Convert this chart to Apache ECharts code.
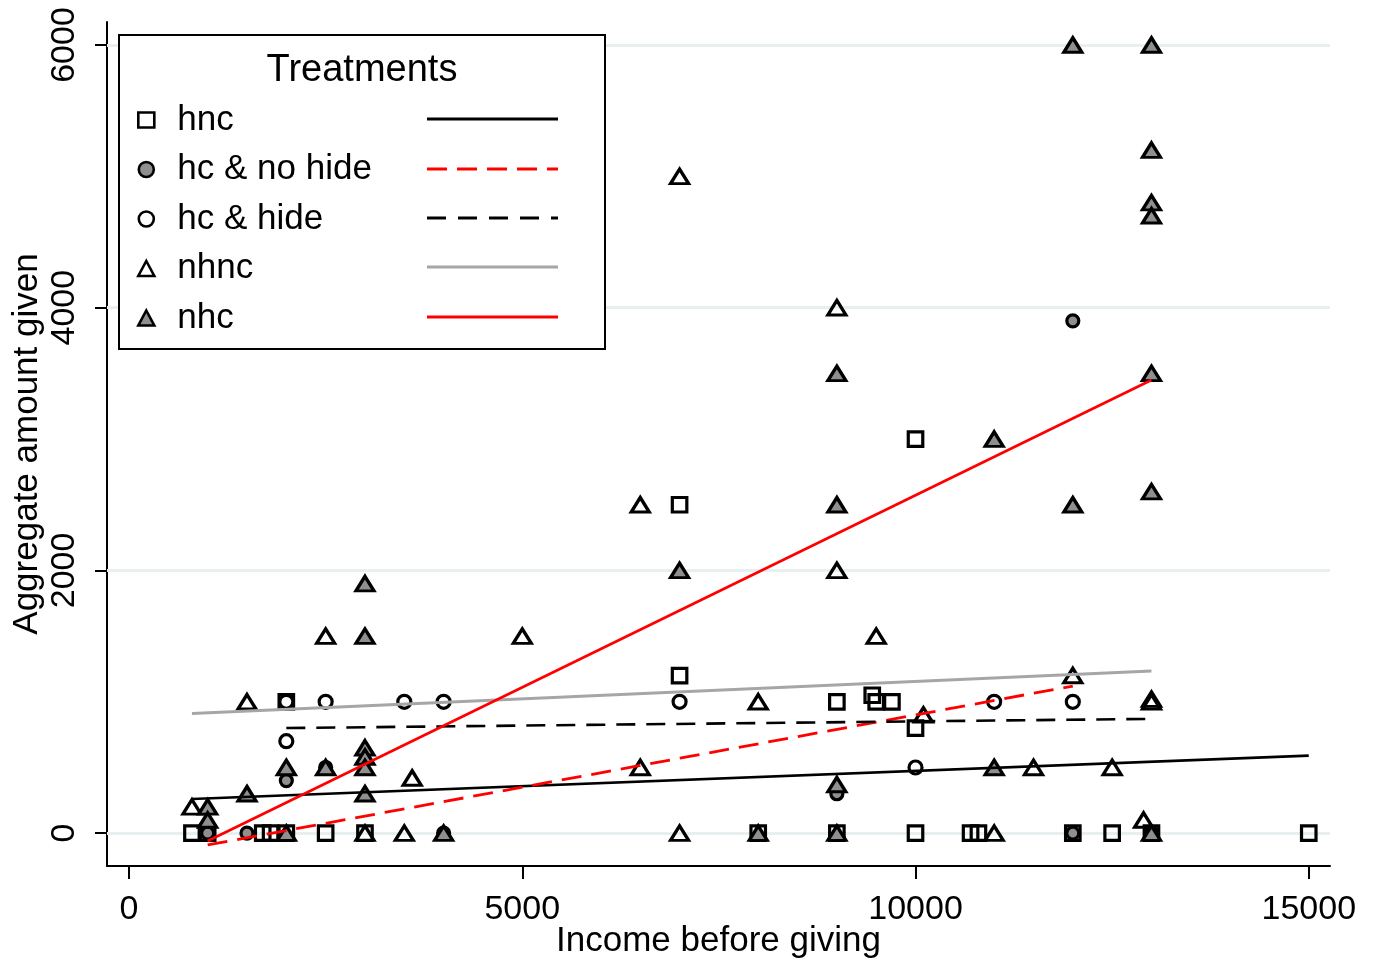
<!DOCTYPE html>
<html><head><meta charset="utf-8">
<script src="https://cdn.jsdelivr.net/npm/echarts@6/dist/echarts.min.js"></script>
<style>html,body{margin:0;padding:0;background:#fff}#c{width:1375px;height:962px}</style>
</head><body><div id="c"></div>
<script>
// ---- data ----
const xTicks = [0, 5000, 10000, 15000];
const yTicks = [0, 2000, 4000, 6000];
const seriesNames = ['hnc', 'hc & no hide', 'hc & hide', 'nhnc', 'nhc'];

const hnc = [[800,0],[1000,0],[1700,0],[1800,0],[2000,0],[2500,0],[3000,0],[2000,1000],
  [7000,2500],[10000,3000],[7000,1200],[9000,1000],[9450,1050],[9500,1000],[9700,1000],
  [10000,800],[8000,0],[9000,0],[10000,0],[10700,0],[10800,0],[12000,0],[12500,0],[13000,0],[15000,0]];
const hcNoHide = [[1000,0],[1500,0],[2000,400],[2500,500],[4000,0],[9000,300],[12000,3900],[12000,0]];
const hcHide = [[2000,1000],[2500,1000],[3500,1000],[4000,1000],[2000,700],[7000,1000],
  [10000,500],[11000,1000],[12000,1000],[13000,0]];
const nhnc = [[800,200],[1500,1000],[2500,1500],[3000,0],[3500,0],[3600,420],[5000,1500],
  [6500,2500],[6500,500],[7000,5000],[7000,0],[8000,1000],[9000,4000],[9000,2000],[9500,1500],
  [10100,900],[11000,0],[11500,500],[12000,1200],[12500,500],[12900,100],[13000,1000],[13000,1020]];
const nhc = [[1000,200],[1000,100],[1500,300],[2000,500],[2000,0],[2500,500],[3000,1900],
  [3000,1500],[3000,650],[3000,580],[3000,500],[3000,300],[4000,0],[7000,2000],[8000,0],
  [9000,3500],[9000,2500],[9000,370],[9000,0],[11000,3000],[11000,500],[12000,6000],[12000,2500],
  [13000,6000],[13000,5200],[13000,4800],[13000,4700],[13000,3500],[13000,2600],[13000,0]];

// fitted lines (end points)
const fitHnc = [[800,260],[15000,590]];
const fitHcNoHide = [[1000,-90],[12000,1120]];
const fitHcHide = [[2000,800],[13000,870]];
const fitNhnc = [[800,910],[13000,1235]];
const fitNhc = [[1000,-60],[13000,3450]];

// ---- styling ----
const FONT = 'Liberation Sans, Arial, sans-serif';
const GRAY = '#8f8f8f';
const RED = '#ff0000';
const BW = 3.2;

function scatter(name, data, symbol, size, fill) {
  return {
    name, type: 'scatter', data, symbol, symbolSize: size, z: 3, symbolKeepAspect: true,
    itemStyle: { color: fill, borderColor: '#000', borderWidth: BW, opacity: 1 },
    emphasis: { disabled: true }
  };
}
function fit(data, color, type, width) {
  return {
    type: 'line', data, symbol: 'none', showSymbol: false, z: 4, silent: true,
    lineStyle: { color, type, width }, emphasis: { disabled: true }
  };
}
const plain = v => String(v);

const chart = echarts.init(document.getElementById('c'), null, { renderer: 'canvas' });
chart.setOption({
  animation: false,
  backgroundColor: '#fff',
  grid: { left: 107, right: 45, top: 22, bottom: 96, containLabel: false, outerBoundsMode: 'none' },
  xAxis: {
    type: 'value', min: -280, max: 15270,
    name: 'Income before giving', nameLocation: 'middle', nameGap: 58, nameMoveOverlap: false,
    nameTextStyle: { fontFamily: FONT, fontSize: 35, color: '#000' },
    axisLine: { show: true, onZero: false, lineStyle: { color: '#000', width: 2 } },
    axisTick: { show: true, length: 13, customValues: xTicks, lineStyle: { color: '#000', width: 2 } },
    axisLabel: { customValues: xTicks, formatter: plain, margin: 27, fontFamily: FONT, fontSize: 34, color: '#000' },
    splitLine: { show: false }
  },
  yAxis: {
    type: 'value', min: -250, max: 6175,
    name: 'Aggregate amount given', nameLocation: 'middle', nameGap: 62, nameMoveOverlap: false,
    nameTextStyle: { fontFamily: FONT, fontSize: 35, color: '#000' },
    axisLine: { show: true, onZero: false, lineStyle: { color: '#000', width: 2 } },
    axisTick: { show: true, length: 12, customValues: yTicks, lineStyle: { color: '#000', width: 2 } },
    axisLabel: { customValues: yTicks, formatter: plain, rotate: 90, margin: 25, fontFamily: FONT, fontSize: 34, color: '#000' },
    splitLine: { show: false }
  },
  legend: {
    data: seriesNames, orient: 'vertical', left: 137, top: 102, padding: 0,
    itemWidth: 16, itemHeight: 15, itemGap: 13.5, z: 60, symbolKeepAspect: true,
    selectedMode: false,
    itemStyle: { borderWidth: 2.6 },
    textStyle: { fontFamily: FONT, fontSize: 35, color: '#000', lineHeight: 36, padding: [0, 0, 0, 18] }
  },
  graphic: [
    { type: 'rect', z: 50, shape: { x: 119, y: 35, width: 486, height: 314 },
      style: { fill: '#fff', stroke: '#000', lineWidth: 2 } },
    { type: 'text', z: 60, x: 362, y: 71,
      style: { text: 'Treatments', fontFamily: FONT, fontSize: 38, fill: '#000', align: 'center', verticalAlign: 'middle' } },
    { type: 'line', z: 60, shape: { x1: 427, y1: 119, x2: 558, y2: 119 }, style: { stroke: '#000', lineWidth: 3 } },
    { type: 'line', z: 60, shape: { x1: 427, y1: 169, x2: 558, y2: 169 }, style: { stroke: RED, lineWidth: 3, lineDash: [20, 10] } },
    { type: 'line', z: 60, shape: { x1: 427, y1: 218, x2: 558, y2: 218 }, style: { stroke: '#000', lineWidth: 3, lineDash: [19, 12] } },
    { type: 'line', z: 60, shape: { x1: 427, y1: 267, x2: 558, y2: 267 }, style: { stroke: '#a6a6a6', lineWidth: 3 } },
    { type: 'line', z: 60, shape: { x1: 427, y1: 317, x2: 558, y2: 317 }, style: { stroke: RED, lineWidth: 3 } }
  ],
  series: [
    { type: 'scatter', data: [], z: 1, silent: true,
      markLine: { z: 1, silent: true, symbol: 'none', label: { show: false }, animation: false,
        lineStyle: { color: '#e8eff1', width: 3, type: 'solid' },
        data: yTicks.map(v => ({ yAxis: v })) } },
    scatter(seriesNames[0], hnc, 'rect', 14.5, 'transparent'),
    scatter(seriesNames[1], hcNoHide, 'circle', 12, GRAY),
    scatter(seriesNames[2], hcHide, 'circle', 13, 'transparent'),
    scatter(seriesNames[3], nhnc, 'triangle', [18, 14.5], 'transparent'),
    scatter(seriesNames[4], nhc, 'triangle', [18, 14.5], GRAY),
    fit(fitHnc, '#000', 'solid', 2.6),
    fit(fitHcNoHide, RED, [20, 10], 2.8),
    fit(fitHcHide, '#000', [19, 11], 2.6),
    fit(fitNhnc, '#a6a6a6', 'solid', 3),
    fit(fitNhc, RED, 'solid', 2.6)
  ]
});
</script>
</body></html>
